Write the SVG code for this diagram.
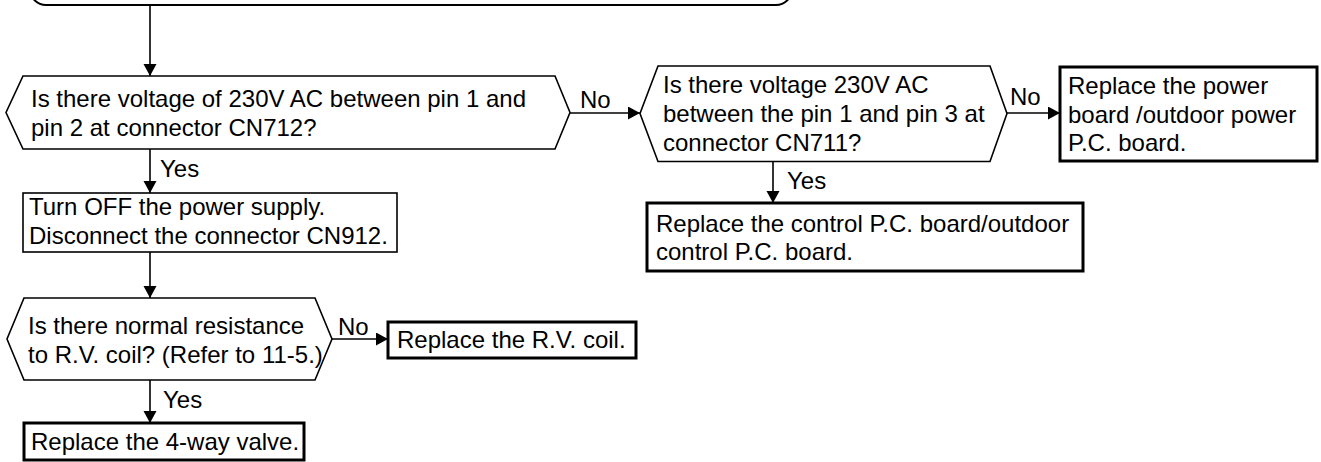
<svg xmlns="http://www.w3.org/2000/svg" width="1321" height="462" viewBox="0 0 1321 462">
<style>
text{font-family:"Liberation Sans",Arial,sans-serif;font-size:24px;fill:#000}
.hex{fill:#fff;stroke:#000;stroke-width:1.6}
.box{fill:#fff;stroke:#000;stroke-width:3}
.thin{fill:#fff;stroke:#000;stroke-width:1.6}
.con{fill:none;stroke:#000;stroke-width:1.6;marker-end:url(#ah)}
</style>
<defs>
<marker id="ah" markerUnits="userSpaceOnUse" markerWidth="13" markerHeight="14" refX="12" refY="6.5" orient="auto">
<path d="M0,0 L12,6.5 L0,13 z" fill="#000"/>
</marker>
</defs>
<rect width="1321" height="462" fill="#fff"/>
<g id="start">
<rect x="30" y="-40" width="762" height="45" rx="16" fill="#fff" stroke="#000" stroke-width="2"/>
</g>
<g id="connectors">
<line class="con" x1="150" y1="5" x2="150" y2="76"/>
<line class="con" x1="570" y1="113" x2="640" y2="113"/>
<line class="con" x1="1007" y1="113" x2="1060" y2="113"/>
<line class="con" x1="773" y1="162" x2="773" y2="203"/>
<line class="con" x1="150" y1="149" x2="150" y2="193"/>
<line class="con" x1="150" y1="252" x2="150" y2="298"/>
<line class="con" x1="332" y1="339" x2="388" y2="339"/>
<line class="con" x1="150" y1="380" x2="150" y2="423"/>
<text x="580" y="108">No</text>
<text x="1010" y="105">No</text>
<text x="787" y="189">Yes</text>
<text x="160" y="177">Yes</text>
<text x="338" y="335">No</text>
<text x="163" y="408">Yes</text>
</g>
<g id="q1">
<polygon class="hex" points="23,76 555,76 570,112.5 555,149 23,149 6,112.5"/>
<text x="31" y="107">Is there voltage of 230V AC between pin 1 and</text>
<text x="31" y="136">pin 2 at connector CN712?</text>
</g>
<g id="q2">
<polygon class="hex" points="658,66 990,66 1007,113.5 990,161.5 658,161.5 640,113.5"/>
<text x="663" y="93">Is there voltage 230V AC</text>
<text x="663" y="122">between the pin 1 and pin 3 at</text>
<text x="663" y="151">connector CN711?</text>
</g>
<g id="power">
<rect class="box" x="1060" y="67" width="257" height="94"/>
<text x="1068" y="94">Replace the power</text>
<text x="1068" y="123">board /outdoor power</text>
<text x="1068" y="151">P.C. board.</text>
</g>
<g id="control">
<rect class="box" x="647" y="203" width="436" height="68"/>
<text x="656" y="232">Replace the control P.C. board/outdoor</text>
<text x="656" y="260">control P.C. board.</text>
</g>
<g id="turnoff">
<rect class="thin" x="23" y="193" width="374" height="59"/>
<text x="29" y="215">Turn OFF the power supply.</text>
<text x="29" y="244">Disconnect the connector CN912.</text>
</g>
<g id="q3">
<polygon class="hex" points="24,298 315,298 332,339 315,380 24,380 7,339"/>
<text x="28" y="334">Is there normal resistance</text>
<text x="28" y="363">to R.V. coil? (Refer to 11-5.)</text>
</g>
<g id="rvcoil">
<rect class="box" x="388" y="322" width="248" height="36"/>
<text x="397" y="348">Replace the R.V. coil.</text>
</g>
<g id="valve">
<rect class="box" x="24" y="423" width="280" height="37"/>
<text x="31" y="450">Replace the 4-way valve.</text>
</g>
</svg>
